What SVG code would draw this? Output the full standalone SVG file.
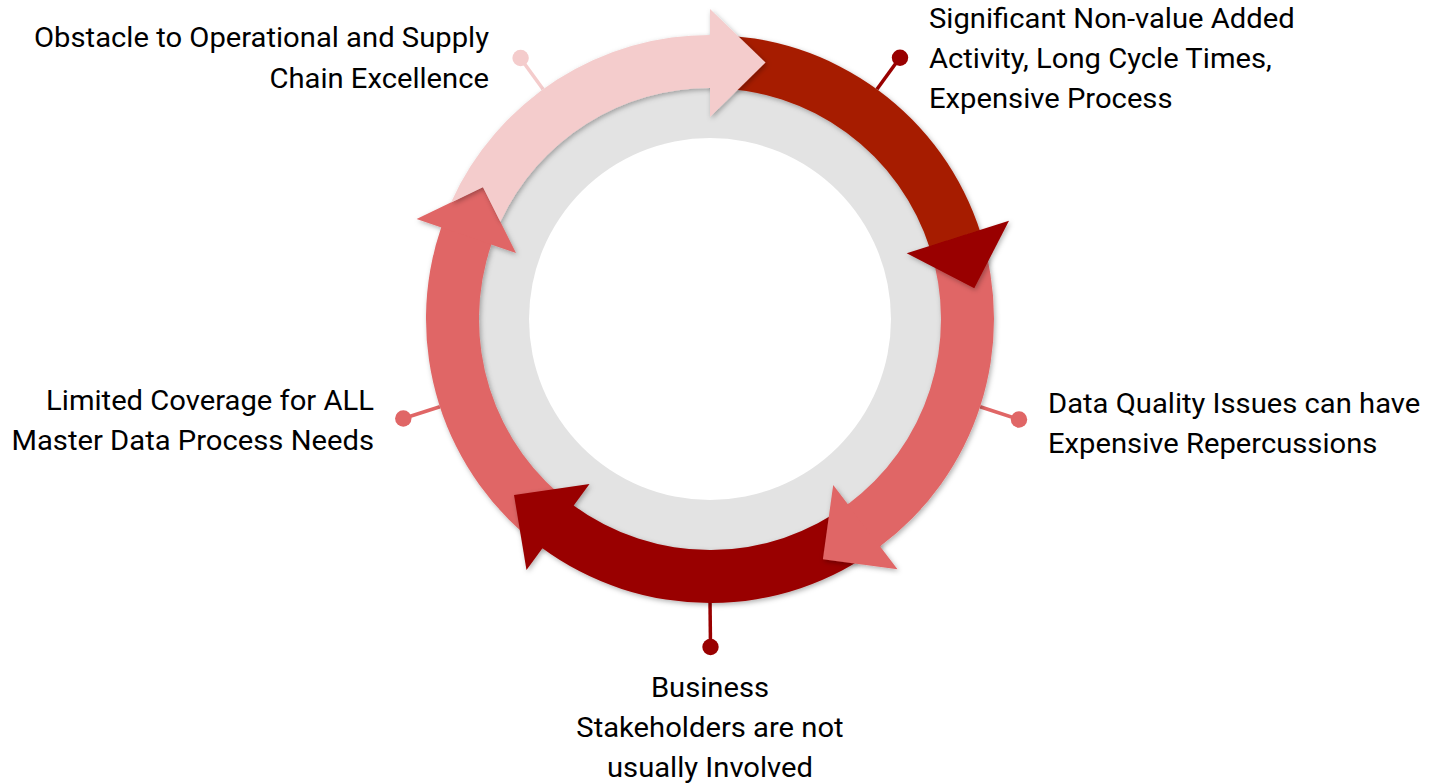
<svg xmlns="http://www.w3.org/2000/svg" width="1433" height="783" viewBox="0 0 1433 783">
  <defs>
    <filter id="sh" x="-20%" y="-20%" width="140%" height="140%">
      <feDropShadow dx="1.5" dy="2" stdDeviation="2.5" flood-color="#000" flood-opacity="0.3"/>
    </filter>
  </defs>
  <style>
    .lbl { font-family: Roboto, "Liberation Sans", sans-serif; font-size: 27.5px; fill: #000; }
    .pink { fill: #F4CCCC; }
    .rust { fill: #A61C00; }
    .salmon { fill: #E06666; }
    .dark { fill: #990000; }
    .ptr { stroke-width: 3.5; fill: none; }
  </style>
  <rect width="1433" height="783" fill="#fff"/>

  <!-- ring background -->
  <g id="ring">
    <circle cx="710" cy="319" r="207" fill="none" stroke="#E3E3E3" stroke-width="54"/>
    <circle cx="710" cy="319" r="181" fill="#fff"/>
  </g>

  <!-- connectors (pointer lines with dots) -->
  <g id="connectors">
    <line class="ptr" x1="543.07" y1="89.24" x2="520.14" y2="57.69" stroke="#F4CCCC"/>
    <circle cx="520.6" cy="58" r="8.2" fill="#F4CCCC"/>
    <line class="ptr" x1="876.93" y1="89.24" x2="899.86" y2="57.69" stroke="#990000"/>
    <circle cx="900" cy="57.7" r="8.2" fill="#990000"/>
    <line class="ptr" x1="980.1" y1="406.76" x2="1019" y2="419.5" stroke="#E06666"/>
    <circle cx="1019" cy="419.5" r="8.2" fill="#E06666"/>
    <line class="ptr" x1="710" y1="600" x2="710.5" y2="647" stroke="#990000"/>
    <circle cx="710.5" cy="647" r="8.2" fill="#990000"/>
    <line class="ptr" x1="439.9" y1="406.76" x2="403.3" y2="418.5" stroke="#E06666"/>
    <circle cx="403.3" cy="418.5" r="8.2" fill="#E06666"/>
  </g>

  <!-- node 5: Limited Coverage (left, salmon) -->
  <g id="node-limited-coverage">
    <g filter="url(#sh)">
      <path class="salmon" d="M 543.07 548.76 A 284 284 0 0 1 441.47 226.54 L 491.58 243.79 A 231 231 0 0 0 574.22 505.88 Z"/>
      <polygon class="salmon" points="416.6,219 516,253 483,187"/>
    </g>
    <g transform="matrix(1.062,0,0,1,-23.19,0)">
      <text class="lbl" text-anchor="end" x="374" y="410">Limited Coverage for ALL</text>
      <text class="lbl" text-anchor="end" x="374" y="450">Master Data Process Needs</text>
    </g>
  </g>

  <!-- node 4: Business Stakeholders (bottom, dark red) -->
  <g id="node-business-stakeholders">
    <g filter="url(#sh)">
      <path class="dark" d="M 880.92 545.81 A 284 284 0 0 1 541.07 547.3 L 572.6 504.69 A 231 231 0 0 0 849.02 503.49 Z"/>
      <polygon class="dark" points="589.5,484 526.5,570 514,495"/>
    </g>
    <g transform="matrix(1.062,0,0,1,-44.02,0)">
      <text class="lbl" text-anchor="middle" x="710" y="697.5">Business</text>
      <text class="lbl" text-anchor="middle" x="710" y="737.5">Stakeholders are not</text>
      <text class="lbl" text-anchor="middle" x="710" y="777.5">usually Involved</text>
    </g>
  </g>

  <!-- node 3: Data Quality Issues (right, salmon) -->
  <g id="node-data-quality">
    <g filter="url(#sh)">
      <path class="salmon" d="M 980.1 231.24 A 284 284 0 0 1 878.93 547.3 L 847.4 504.69 A 231 231 0 0 0 929.69 247.62 Z"/>
      <polygon class="salmon" points="833.2,485 897.5,569.3 822.9,559.3"/>
    </g>
    <g transform="matrix(1.062,0,0,1,-64.98,0)">
      <text class="lbl" x="1048" y="413.5">Data Quality Issues can have</text>
      <text class="lbl" x="1048" y="453.5">Expensive Repercussions</text>
    </g>
  </g>

  <!-- node 2: Significant Non-value Added Activity (top right, rust) -->
  <g id="node-non-value-added">
    <g filter="url(#sh)">
      <path class="rust" d="M 710 35 A 284 284 0 0 1 980.86 233.6 L 930.31 249.54 A 231 231 0 0 0 710 88 Z"/>
      <polygon class="dark" points="906.7,253.3 1009,220.7 974.3,288.3"/>
    </g>
    <g transform="matrix(1.062,0,0,1,-57.6,0)">
      <text class="lbl" x="929" y="28.5">Significant Non-value Added</text>
      <text class="lbl" x="929" y="68.5">Activity, Long Cycle Times,</text>
      <text class="lbl" x="929" y="108.5">Expensive Process</text>
    </g>
  </g>

  <!-- node 1: Obstacle (top left, pink) -->
  <g id="node-obstacle">
    <g filter="url(#sh)">
      <path class="pink" d="M 451.04 202.4 A 284 284 0 0 1 712.48 35.01 L 712.02 88.01 A 231 231 0 0 0 500.42 221.85 L 483 187 Z"/>
      <polygon class="pink" points="710,9 710,117 765.5,62.5"/>
    </g>
    <g transform="matrix(1.062,0,0,1,-30.32,0)">
      <text class="lbl" text-anchor="end" x="489" y="47.5">Obstacle to Operational and Supply</text>
      <text class="lbl" text-anchor="end" x="489" y="88.5">Chain Excellence</text>
    </g>
  </g>
</svg>
